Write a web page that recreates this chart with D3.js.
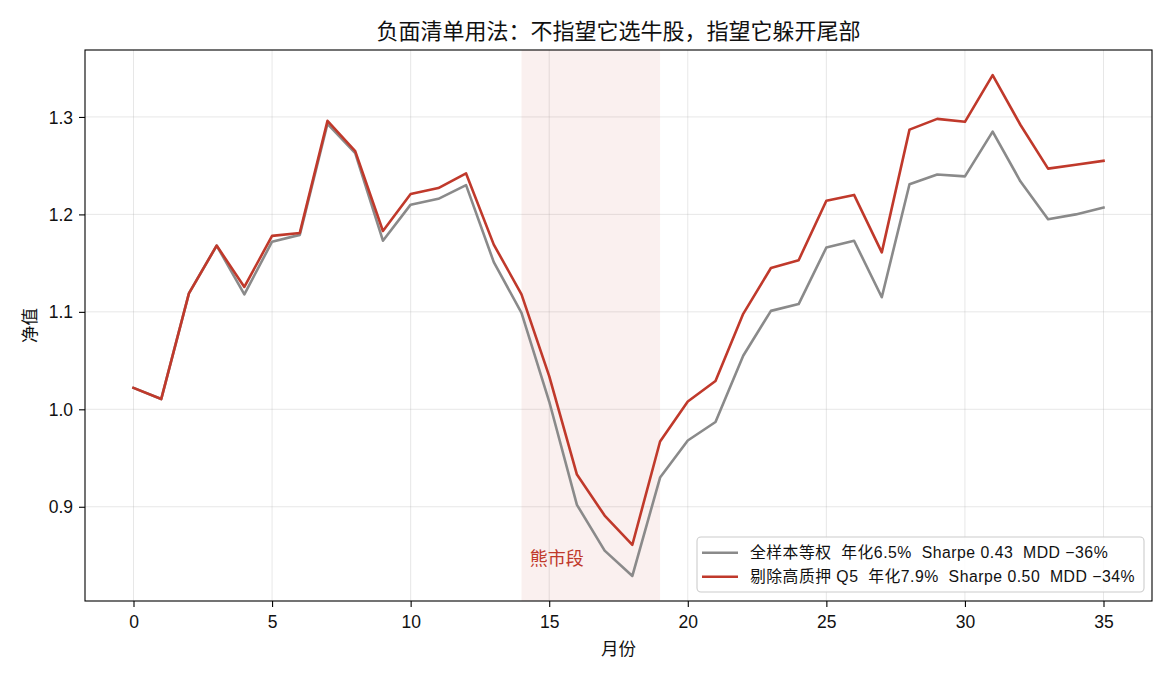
<!DOCTYPE html>
<html>
<head>
<meta charset="utf-8">
<script src="https://cdn.jsdelivr.net/npm/d3@7"></script>
<style>
  html, body { margin: 0; padding: 0; background: #fff; }
  svg { display: block; font-family: "Liberation Sans", "Noto Sans CJK SC", sans-serif; }
  text { white-space: pre; }
</style>
</head>
<body>
<svg id="chart" width="1170" height="676"></svg>
<script>
// ---------- data ----------
const months = d3.range(0, 36);
const fullSample = [1.022, 1.0105, 1.119, 1.168, 1.118, 1.172, 1.179, 1.293, 1.263, 1.173,
  1.210, 1.216, 1.230, 1.151, 1.099, 1.008, 0.902, 0.855, 0.829, 0.930,
  0.968, 0.987, 1.055, 1.101, 1.108, 1.166, 1.173, 1.115, 1.231, 1.241,
  1.239, 1.285, 1.234, 1.195, 1.200, 1.207];
const excludeQ5 = [1.022, 1.0105, 1.119, 1.168, 1.1256, 1.178, 1.181, 1.296, 1.265, 1.183,
  1.221, 1.227, 1.242, 1.169, 1.118, 1.034, 0.933, 0.891, 0.861, 0.967,
  1.008, 1.029, 1.098, 1.145, 1.153, 1.214, 1.220, 1.161, 1.287, 1.298,
  1.295, 1.343, 1.292, 1.247, 1.251, 1.255];
const seriesNames = ["全样本等权  年化6.5%  Sharpe 0.43  MDD \u221236%",
                     "剔除高质押 Q5  年化7.9%  Sharpe 0.50  MDD \u221234%"];
const seriesColors = ["#8a8a8a", "#c0392b"];
const bearRange = [14, 19];
const bearLabel = "熊市段";
const xTicks = [0, 5, 10, 15, 20, 25, 30, 35];
const yTicks = [0.9, 1.0, 1.1, 1.2, 1.3];
const titleText = "负面清单用法：不指望它选牛股，指望它躲开尾部";
const xLabel = "月份";
const yLabel = "净值";

// ---------- layout ----------
const svg = d3.select("#chart");
const L = 85, R = 1152, T = 50, B = 601;

const xExt = d3.extent(months), xPad = (xExt[1] - xExt[0]) * 0.05;
const allY = fullSample.concat(excludeQ5);
const yExt = d3.extent(allY), yPad = (yExt[1] - yExt[0]) * 0.05;

const x = d3.scaleLinear().domain([xExt[0] - xPad, xExt[1] + xPad]).range([L, R]);
const y = d3.scaleLinear().domain([yExt[0] - yPad, yExt[1] + yPad]).range([B, T]);

// grid
const grid = svg.append("g");
grid.selectAll(".gx").data(xTicks).join("line")
  .attr("x1", d => x(d)).attr("x2", d => x(d)).attr("y1", T).attr("y2", B)
  .attr("stroke", "#b0b0b0").attr("stroke-opacity", 0.3).attr("stroke-width", 1);
grid.selectAll(".gy").data(yTicks).join("line")
  .attr("x1", L).attr("x2", R).attr("y1", d => y(d)).attr("y2", d => y(d))
  .attr("stroke", "#b0b0b0").attr("stroke-opacity", 0.3).attr("stroke-width", 1);

// bear shading
svg.append("rect")
  .attr("x", x(bearRange[0])).attr("width", x(bearRange[1]) - x(bearRange[0]))
  .attr("y", T).attr("height", B - T)
  .attr("fill", "#c0392b").attr("fill-opacity", 0.075);

svg.append("text")
  .attr("x", x(bearRange[0] + 0.3)).attr("y", y(0.847)).attr("dy", "0.38em")
  .attr("font-size", 18).attr("fill", "#c0392b").text(bearLabel);

// lines
const line = d3.line().x((d, i) => x(months[i])).y(d => y(d));
[fullSample, excludeQ5].forEach((s, k) => {
  svg.append("path").datum(s).attr("d", line)
    .attr("fill", "none").attr("stroke", seriesColors[k]).attr("stroke-width", 2.6)
    .attr("stroke-linejoin", "round").attr("stroke-linecap", "square");
});

// axes
const xAxis = svg.append("g").attr("transform", `translate(0,${B})`)
  .call(d3.axisBottom(x).tickValues(xTicks).tickFormat(d3.format("d")).tickSize(6).tickPadding(6));
const yAxis = svg.append("g").attr("transform", `translate(${L},0)`)
  .call(d3.axisLeft(y).tickValues(yTicks).tickFormat(d3.format(".1f")).tickSize(6).tickPadding(6));
[xAxis, yAxis].forEach(g => {
  g.select(".domain").remove();
  g.selectAll(".tick line").attr("stroke", "#000").attr("stroke-width", 1.1);
  g.selectAll(".tick text").attr("font-size", 17.5).attr("fill", "#111")
    .attr("font-family", "Liberation Sans, sans-serif");
});
xAxis.selectAll(".tick text").attr("dy", null).attr("y", 27);
yAxis.selectAll(".tick text").attr("dy", "0.35em");

// frame
svg.append("rect").attr("x", L).attr("y", T).attr("width", R - L).attr("height", B - T)
  .attr("fill", "none").attr("stroke", "#000").attr("stroke-width", 1.1);

// labels
svg.append("text").attr("x", (L + R) / 2).attr("y", 39).attr("text-anchor", "middle")
  .attr("font-size", 22).attr("fill", "#111").text(titleText);
svg.append("text").attr("x", (L + R) / 2).attr("y", 655).attr("text-anchor", "middle")
  .attr("font-size", 17.5).attr("fill", "#111").text(xLabel);
svg.append("text").attr("transform", `translate(36,${(T + B) / 2}) rotate(-90)`)
  .attr("text-anchor", "middle").attr("font-size", 17.5).attr("fill", "#111").text(yLabel);

// legend
const lg = svg.append("g");
lg.append("rect").attr("x", 697).attr("y", 537).attr("width", 447).attr("height", 55)
  .attr("rx", 4).attr("fill", "#fff").attr("fill-opacity", 0.85)
  .attr("stroke", "#cccccc").attr("stroke-width", 1.1);
seriesNames.forEach((name, k) => {
  const cy = 552.7 + k * 24;
  lg.append("line").attr("x1", 702).attr("x2", 738).attr("y1", cy).attr("y2", cy)
    .attr("stroke", seriesColors[k]).attr("stroke-width", 2.6);
  lg.append("text").attr("x", 750).attr("y", cy).attr("dy", "0.36em")
    .attr("font-size", 15.8).attr("letter-spacing", 0.5).attr("fill", "#111").text(name);
});
</script>
</body>
</html>
